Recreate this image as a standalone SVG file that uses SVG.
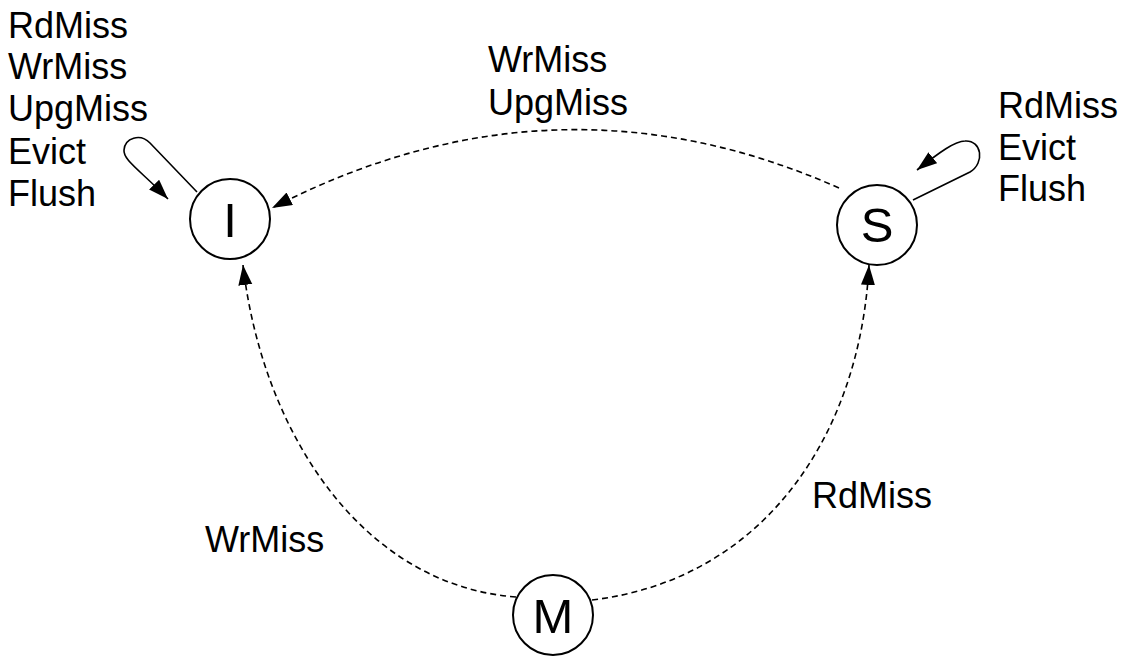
<svg xmlns="http://www.w3.org/2000/svg" width="1132" height="656" viewBox="0 0 1132 656">
<style>
.node circle{fill:#fff;stroke:#000;stroke-width:2}
.node text,.lbl{font-family:"Liberation Sans",Arial,sans-serif;fill:#000}
.lbl{font-size:36px}
.node text{text-anchor:middle;font-size:49px}
.c{fill:none;stroke:#000;stroke-width:1.6}
.d{stroke-dasharray:6,4}
</style>
<defs>
<marker id="ah" markerUnits="userSpaceOnUse" markerWidth="22" markerHeight="16" refX="20" refY="7" orient="auto">
<path d="M0,0 L20,7 L0,14 Z" fill="#000"/>
</marker>
</defs>
<g id="connectors">
<path class="c d" d="M839,188 Q555,62 272,208" marker-end="url(#ah)"/>
<path class="c d" d="M516,597 C360,585 262,430 243,265" marker-end="url(#ah)"/>
<path class="c d" d="M592,600 C760,580 860,440 869,265" marker-end="url(#ah)"/>
<path class="c" d="M197,192 L150,143 C140,133 125,138 124,150 C123,160 140,170 168,199" marker-end="url(#ah)"/>
<path class="c" d="M913,200 L970,172 C985,163 982,140 965,141 C955,141 940,152 917,170" marker-end="url(#ah)"/>
</g>
<g id="node-I" class="node"><circle cx="230" cy="219" r="40"/><text x="230" y="237">I</text></g>
<g id="node-S" class="node"><circle cx="877" cy="225" r="40"/><text x="877" y="242">S</text></g>
<g id="node-M" class="node"><circle cx="553" cy="615" r="40"/><text x="553" y="633">M</text></g>
<g id="labels">
<text class="lbl" x="8" y="38">RdMiss</text>
<text class="lbl" x="8" y="79">WrMiss</text>
<text class="lbl" x="8" y="121">UpgMiss</text>
<text class="lbl" x="8" y="164">Evict</text>
<text class="lbl" x="8" y="206">Flush</text>
<text class="lbl" x="488" y="72">WrMiss</text>
<text class="lbl" x="488" y="115">UpgMiss</text>
<text class="lbl" x="998" y="118">RdMiss</text>
<text class="lbl" x="998" y="160">Evict</text>
<text class="lbl" x="998" y="201">Flush</text>
<text class="lbl" x="205" y="552">WrMiss</text>
<text class="lbl" x="812" y="508">RdMiss</text>
</g>
</svg>
